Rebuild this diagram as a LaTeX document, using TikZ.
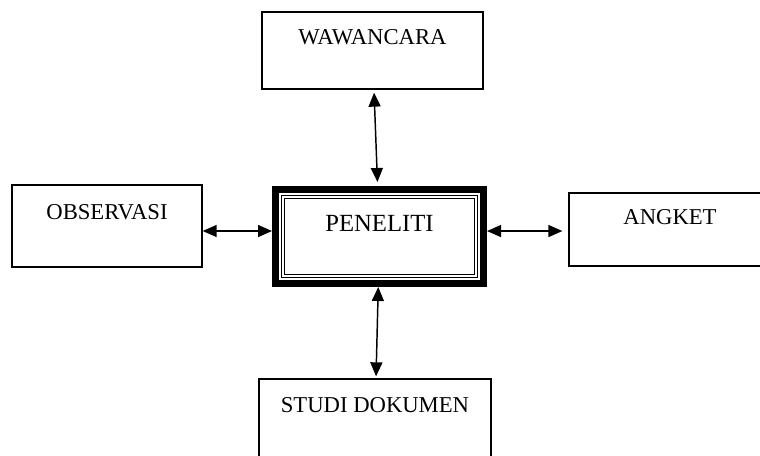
\documentclass[tikz,border=0pt]{standalone}
\usepackage{fontspec}
\setmainfont{Liberation Serif}
\usetikzlibrary{positioning,arrows.meta,calc}

\begin{document}
\begin{tikzpicture}[
    x=0.75pt, y=-0.75pt,
    >={Triangle[length=10.5pt,width=9pt]},
    kotak/.style={
        draw=black,
        line width=1pt,
        inner sep=0pt,
        align=center,
        font=\fontsize{17}{20}\selectfont
    },
    pusat/.style={
        draw=black,
        line width=5.25pt,
        inner sep=0pt,
        align=center,
        minimum width=156pt,
        text height=31.3pt,
        text depth=39.2pt,
        font=\fontsize{18.5}{21}\selectfont
    },
    bingkai/.style={
        draw=black,
        double=white,
        line width=0.75pt,
        double distance=1.2pt
    },
    panah/.style={
        <->,
        line width=1.1pt
    }
]

\clip (0,0) rectangle (760,455);

% Nodes
\node[pusat] (peneliti) at (379.5,236.5) {PENELITI};
\node[kotak, minimum width=165.75pt, text height=24.4pt, text depth=33.3pt] (wawancara) at (372.5,50.5) {WAWANCARA};
\node[kotak, minimum width=142.5pt, text height=25.9pt, text depth=35.6pt] (observasi) at (107,226) {OBSERVASI};
\node[kotak, minimum width=151.5pt, text height=23.7pt, text depth=31.1pt] (angket) at (670,229.5) {ANGKET};
\node[kotak, minimum width=174pt, text height=25.2pt, text depth=34.8pt] (studi) at (375,419) {STUDI DOKUMEN};

% inner frame of the centre box
\draw[bingkai] ($(peneliti.south west)+(8.06pt,8.06pt)$) rectangle ($(peneliti.north east)-(8.06pt,8.06pt)$);

% Arrows
\draw[panah, shorten <=2.25pt, shorten >=3pt] (wawancara) -- (peneliti);
\draw[panah] ([yshift=-3.75pt]observasi.east) -- ([yshift=-3.75pt]observasi.east -| peneliti.west);
\draw[panah, shorten >=4.5pt] ([yshift=4.1pt]peneliti.east) -- ([yshift=4.1pt]peneliti.east -| angket.west);
\draw[panah, shorten >=1.5pt] (peneliti) -- (studi);

\end{tikzpicture}
\end{document}
